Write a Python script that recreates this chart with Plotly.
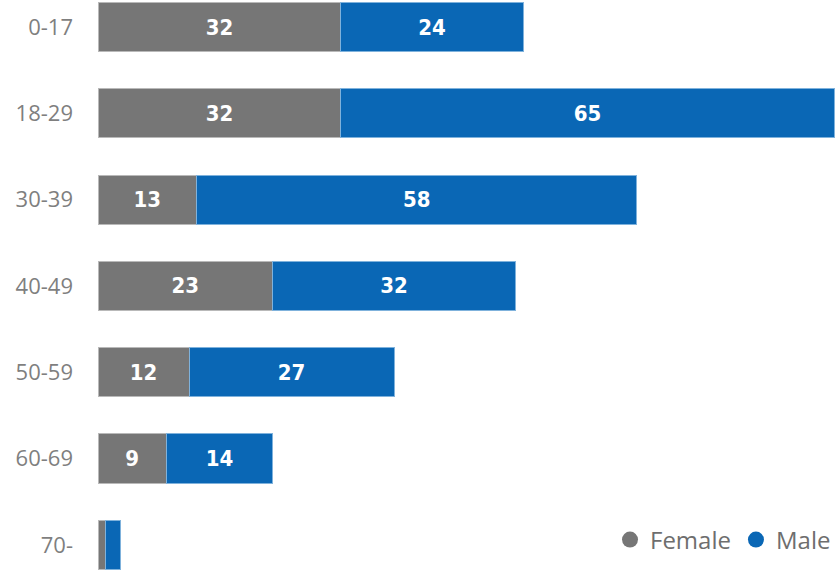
import plotly.graph_objects as go

categories = ["0-17", "18-29", "30-39", "40-49", "50-59", "60-69", "70-"]
female = [32, 32, 13, 23, 12, 9, 1]
male = [24, 65, 58, 32, 27, 14, 2]

GRAY = "#767676"
BLUE = "#0a67b5"

fig = go.Figure()
fig.add_trace(go.Bar(
    y=categories, x=female, orientation="h", name="Female",
    marker=dict(color=GRAY, line=dict(color="#b9b9b9", width=1)),
    text=female, textposition="inside", insidetextanchor="middle",
    textfont=dict(color="white", size=22, family="DejaVu Sans Condensed", weight="bold"),
    showlegend=False, hoverinfo="skip",
))
fig.add_trace(go.Bar(
    y=categories, x=male, orientation="h", name="Male",
    marker=dict(color=BLUE, line=dict(color="#7fb2dc", width=1)),
    text=male, textposition="inside", insidetextanchor="middle",
    textfont=dict(color="white", size=22, family="DejaVu Sans Condensed", weight="bold"),
    showlegend=False, hoverinfo="skip",
))
for nm, col in [("Female", GRAY), ("Male", BLUE)]:
    fig.add_trace(go.Scatter(
        x=[None], y=[None], mode="markers", name=nm,
        marker=dict(symbol="circle", size=20, color=col),
    ))

fig.update_layout(
    width=836, height=570,
    margin=dict(l=98, r=0, t=0, b=0),
    barmode="stack", bargap=0.43,
    plot_bgcolor="white", paper_bgcolor="white",
    uniformtext=dict(minsize=22, mode="hide"),
    legend=dict(
        orientation="h", x=1.0, xanchor="right", y=1 - 540 / 570, yanchor="middle",
        font=dict(size=24, color="#6e6e6e", family="Open Sans"),
        itemwidth=30, tracegroupgap=0, traceorder="normal",
        bgcolor="rgba(0,0,0,0)",
    ),
    xaxis=dict(range=[0, 738 / 7.59], visible=False, fixedrange=True),
    yaxis=dict(
        type="category", categoryorder="array", categoryarray=categories,
        range=[6.292, -0.313], showgrid=False, zeroline=False, showline=False,
        ticks="", ticklabelstandoff=24,
        tickfont=dict(size=22, color="#7f7f7f", family="Open Sans"),
    ),
)

fig.write_html("out.html", config={"displayModeBar": False},
               post_script="document.body.style.margin='0';")
